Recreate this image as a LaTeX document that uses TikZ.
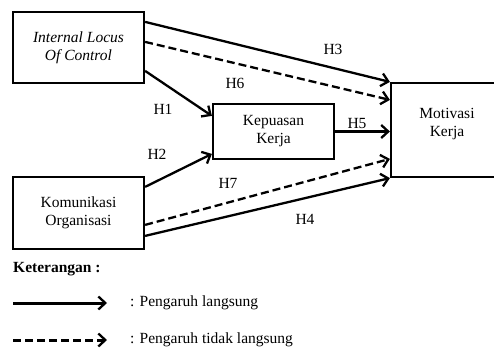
\documentclass[tikz,border=0pt]{standalone}
\usepackage{fontspec}
\setmainfont{Liberation Serif}
\usetikzlibrary{
    calc,
    arrows.meta
}

\begin{document}
\begin{tikzpicture}[x=1pt, y=-1pt,
        font=\fontsize{15.5}{18}\selectfont,
        var box/.style={draw, line width=2.2pt, align=center, inner sep=0pt},
        direct/.style={line width=2.3pt, -{Straight Barb[length=7pt,width=13pt,line width=2.3pt]}},
        indirect/.style={direct, dash pattern=on 8pt off 4pt},
        hyp label/.style={inner sep=0pt}
    ]
    \useasboundingbox (0,0) rectangle (494,352);

    % variables
    \node[var box, minimum width=131pt, minimum height=71pt] (iloc) at (78.5,47.5)
        {\itshape Internal Locus\\\itshape Of Control};
    \node[var box, minimum width=131pt, minimum height=72pt] (kom) at (78.5,213)
        {Komunikasi\\Organisasi};
    \node[var box, minimum width=121pt, minimum height=55pt] (kep) at (273.5,131.5)
        {Kepuasan\\Kerja};
    \node[var box, minimum width=112pt, minimum height=94pt] (mot) at (447,130) {};
    \node[align=center, inner sep=0pt] (motlbl) at (447,124) {Motivasi\\Kerja};

    % paths
    \draw[direct]   ($(iloc.north east)+(0,11)$) -- (mot.north west);
    \draw[indirect] ($(iloc.north east)+(0,31)$) -- ($(mot.north west)+(0,18)$);
    \draw[direct]   ($(iloc.north east)+(0,60)$) -- ($(kep.north west)+(0,13)$);
    \draw[direct]   ($(kom.north east)+(0,11)$)  -- ($(kep.north west)+(0,51)$);
    \draw[direct]   (kep.east) -- (kep.east -| mot.west);
    \draw[indirect] ($(kom.north east)+(0,49)$)  -- ($(mot.north west)+(0,77)$);
    \draw[direct]   ($(kom.north east)+(0,60)$)  -- (mot.south west);

    \node[hyp label] (h1) at (163,109) {H1};
    \node[hyp label] (h2) at (157,154) {H2};
    \node[hyp label] (h3) at (333,49)  {H3};
    \node[hyp label] (h4) at (305,219) {H4};
    \node[hyp label] (h5) at (357,124) {H5};
    \node[hyp label] (h6) at (235,83)  {H6};
    \node[hyp label] (h7) at (228,183) {H7};

    % legend
    \node[anchor=west, inner sep=0pt, font=\fontsize{15.5}{18}\selectfont\bfseries] (ket) at (13,269) {Keterangan :};
    \coordinate (l1a) at (13,303);
    \coordinate (l1b) at (107,303);
    \coordinate (l2a) at (13,340);
    \coordinate (l2b) at (107,340);
    \draw[direct, line width=3pt]   (l1a) -- (l1b);
    \draw[indirect, line width=3pt] (l2a) -- (l2b);
    \node[anchor=west, inner sep=0pt] (langsung) at (130,303) {: Pengaruh langsung};
    \node[anchor=west, inner sep=0pt] (tidak) at (130,340) {: Pengaruh tidak langsung};
\end{tikzpicture}
\end{document}
